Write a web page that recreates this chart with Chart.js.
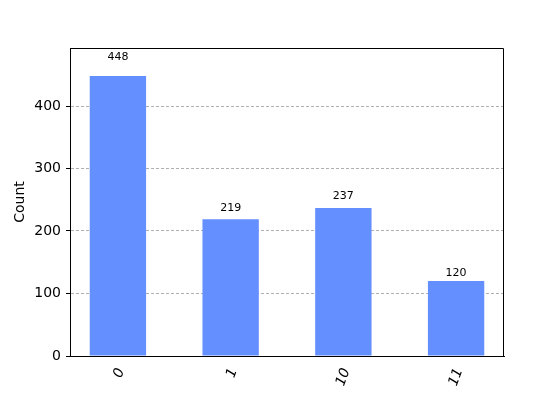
<!DOCTYPE html>
<html>
<head>
<meta charset="utf-8">
<script src="https://cdn.jsdelivr.net/npm/chart.js@4"></script>
<style>
  html, body { margin: 0; padding: 0; background: #fff; }
  #chart { display: block; }
</style>
</head>
<body>
<canvas id="chart" width="560" height="400"></canvas>
<script>
// states and counts
const labels = ['0', '1', '10', '11'];
const counts = [448, 219, 237, 120];
const yTicks = [0, 100, 200, 300, 400];

const barColor = '#648fff';
const font = 'DejaVu Sans';

// draws the top/right frame and the count above each bar
const extras = {
    id: 'extras',
    afterDatasetsDraw(chart) {
        const ctx = chart.ctx;
        const area = chart.chartArea;
        ctx.save();
        ctx.strokeStyle = '#000';
        ctx.lineWidth = 1;
        ctx.beginPath();
        ctx.moveTo(area.left, area.top + 0.5);
        ctx.lineTo(area.right - 0.5, area.top + 0.5);
        ctx.lineTo(area.right - 0.5, area.bottom);
        ctx.stroke();

        const meta = chart.getDatasetMeta(0);
        ctx.fillStyle = '#000';
        ctx.font = '11px ' + font;
        ctx.textAlign = 'center';
        ctx.textBaseline = 'bottom';
        meta.data.forEach((bar, i) => {
            const y = chart.scales.y.getPixelForValue(counts[i] * 1.05);
            ctx.fillText(String(counts[i]), bar.x, y + 1);
        });
        ctx.restore();
    }
};

const ctx = document.getElementById('chart').getContext('2d');
new Chart(ctx, {
    type: 'bar',
    data: {
        datasets: [{
            data: counts.map((c, i) => ({ x: i, y: c })),
            backgroundColor: barColor,
            borderWidth: 0,
            barPercentage: 0.5,
            categoryPercentage: 1.0
        }]
    },
    options: {
        responsive: false,
        animation: false,
        layout: { padding: { top: 48, right: 56, left: 0, bottom: 0 } },
        plugins: {
            legend: { display: false },
            tooltip: { enabled: false }
        },
        scales: {
            x: {
                type: 'linear',
                offset: false,
                min: -0.425,
                max: 3.425,
                grid: { display: false, drawTicks: true, tickLength: 4, color: '#000' },
                border: { display: true, color: '#000', width: 1 },
                ticks: {
                    includeBounds: false,
                    stepSize: 1,
                    autoSkip: false,
                    minRotation: 70,
                    maxRotation: 70,
                    padding: 6,
                    labelOffset: 3,
                    color: '#000',
                    font: { family: font, size: 14, style: 'italic' },
                    callback: v => labels[v] !== undefined ? labels[v] : ''
                },
                afterFit: s => { s.height = 44; }
            },
            y: {
                min: 0,
                max: 492.8,
                afterBuildTicks: s => { s.ticks = yTicks.map(v => ({ value: v })); },
                grid: {
                    color: '#b0b0b0',
                    tickColor: '#000',
                    tickLength: 4,
                    tickBorderDash: [],
                    drawTicks: true
                },
                border: { display: true, color: '#000', width: 1, dash: [3, 2] },
                ticks: {
                    color: '#000',
                    padding: 5,
                    font: { family: font, size: 14 }
                },
                title: {
                    display: true,
                    text: 'Count',
                    color: '#000',
                    font: { family: font, size: 14 },
                    padding: { top: 12, bottom: 0 }
                },
                afterFit: s => { s.width = 70; }
            }
        }
    },
    plugins: [extras]
});
</script>
</body>
</html>
